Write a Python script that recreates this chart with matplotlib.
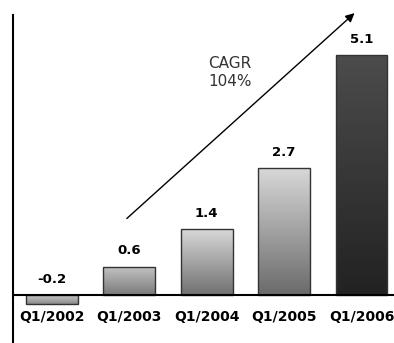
import numpy as np
import matplotlib
matplotlib.use("Agg")
import matplotlib.pyplot as plt
from matplotlib.patches import Rectangle
from matplotlib.colors import LinearSegmentedColormap

categories = ["Q1/2002", "Q1/2003", "Q1/2004", "Q1/2005", "Q1/2006"]
values = [-0.2, 0.6, 1.4, 2.7, 5.1]
value_labels = ["-0.2", "0.6", "1.4", "2.7", "5.1"]
# (top colour, bottom colour) of each bar's gradient
bar_grad = [("#d0d0d0", "#8a8a8a"), ("#c4c4c4", "#7a7a7a"), ("#d8d8d8", "#707070"),
            ("#d8d8d8", "#6a6a6a"), ("#4c4c4c", "#222222")]

plt.rcParams['font.family'] = ['DejaVu Sans']

fig = plt.figure(figsize=(3.94, 3.43), dpi=100)
ax = fig.add_axes([13/394, 0, 381/394, 328/343])
ax.set_xlim(-0.5, 4.42)
ax.set_ylim(-1.02, 5.96)
for s in ["top", "right", "bottom"]:
    ax.spines[s].set_visible(False)
ax.spines["left"].set_linewidth(1.5)
ax.set_xticks([])
ax.set_yticks([])
ax.axhline(0, color="black", lw=1.5, zorder=5)

width = 0.67
for i, (v, (ct, cb)) in enumerate(zip(values, bar_grad)):
    x0 = i - width / 2
    y0, y1 = min(0, v), max(0, v)
    cmap = LinearSegmentedColormap.from_list("g", [cb, ct])
    grad = np.linspace(0, 1, 256).reshape(-1, 1)
    im = ax.imshow(grad, cmap=cmap, aspect="auto", origin="lower",
                   extent=[x0, x0 + width, y0, y1], zorder=2)
    rect = Rectangle((x0, y0), width, y1 - y0, fill=False,
                     edgecolor="#333333", lw=1.0, zorder=3)
    ax.add_patch(rect)
    im.set_clip_path(rect)
    ly = max(v, 0) + 0.34
    ax.text(i, ly, value_labels[i], ha="center", va="center",
            fontsize=9.5, fontweight="bold", zorder=6)

for i, c in enumerate(categories):
    ax.text(i, -0.47, c, ha="center", va="center", fontsize=10,
            fontweight="bold")
ax.set_xlim(-0.5, 4.42)
ax.set_ylim(-1.02, 5.96)

ax.annotate("", xy=(3.91, 6.0), xytext=(0.97, 1.63),
            xycoords="data", textcoords="data",
            arrowprops=dict(arrowstyle="-|>", color="black", lw=1.0,
                            mutation_scale=13, shrinkA=0, shrinkB=0),
            annotation_clip=False)
ax.text(2.3, 4.74, "CAGR\n104%", ha="center", va="center", fontsize=11,
        color="#333333", linespacing=1.25)

fig.savefig("out.png", dpi=100)
